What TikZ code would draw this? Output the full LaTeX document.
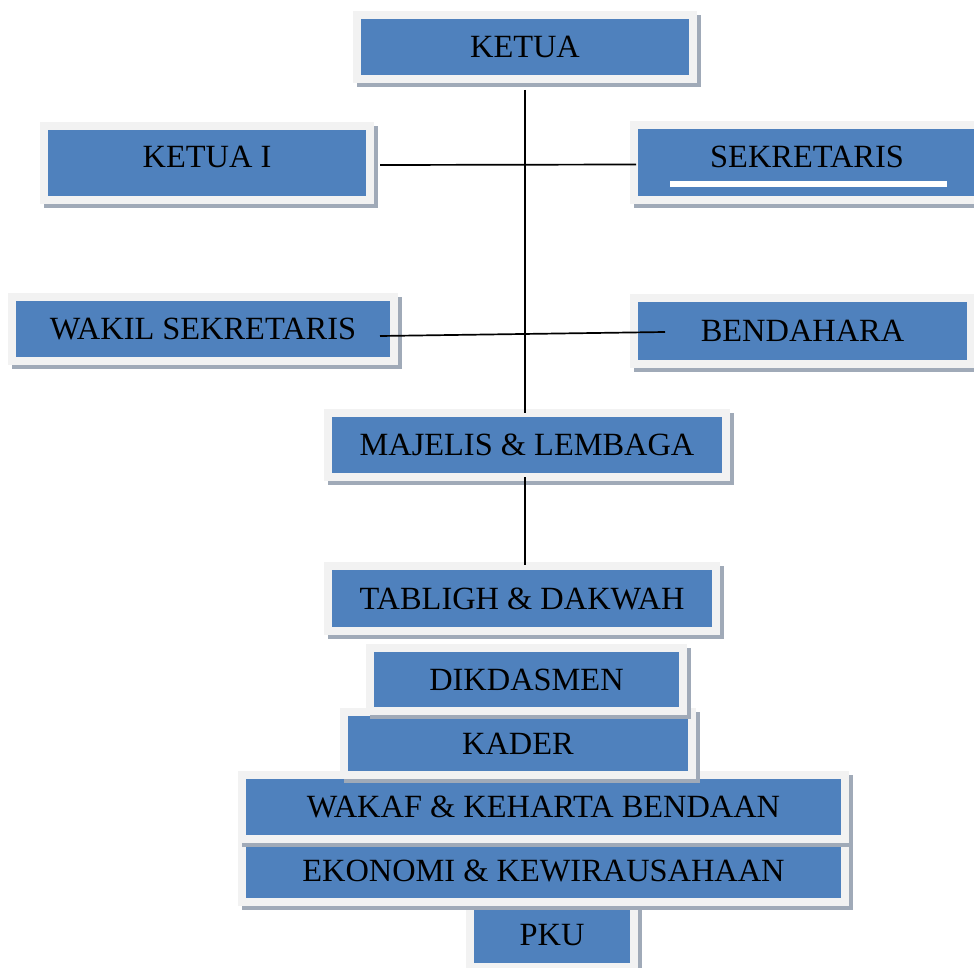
\documentclass[tikz,border=0pt]{standalone}
\usepackage{fontspec}
\setmainfont{Liberation Serif}
\definecolor{boxblue}{HTML}{4F81BD}
\definecolor{boxborder}{HTML}{F2F2F2}
\definecolor{boxshadow}{HTML}{A0AAB8}
\tikzset{
  bluebox/.style={fill=boxblue, inner sep=0pt, outer sep=0pt, text=black,
    font=\fontsize{32.4}{37}\selectfont},
  connector/.style={draw=black, line width=1.7pt}
}
% #1 name, #2 x1, #3 y1, #4 x2, #5 y2 (blue area, px, y down), #6 text
\newcommand\orgbox[6]{%
  \fill[boxshadow] (#2-4,#3-4) rectangle (#4+12,#5+12);
  \fill[boxborder] (#2-8,#3-8) rectangle (#4+8,#5+8);
  \node[bluebox, minimum width={(#4-#2)*1pt}, minimum height={(#5-#3)*1pt}]
    (#1) at ({(#2+#4)/2},{(#3+#5)/2}) {#6};
}
\begin{document}
\begin{tikzpicture}[x=1pt,y=-1pt]
\useasboundingbox (0,0) rectangle (974,968);
\clip (0,0) rectangle (974,968);
\fill[white] (0,0) rectangle (974,968);
% top level boxes
\orgbox{ketua}{361}{19}{689}{75}{KETUA}
\orgbox{ketuaI}{48}{130}{366}{196}{\raisebox{6pt}[\height][\depth]{KETUA I}}
\orgbox{sekretaris}{638}{129}{976}{196}{\raisebox{6pt}[\height][\depth]{SEKRETARIS}}
\fill[white] (670,181) rectangle (947,187);
\orgbox{wakil}{16}{301}{390}{357}{WAKIL SEKRETARIS}
\orgbox{bendahara}{638}{302}{967}{360}{BENDAHARA}
\orgbox{majelis}{332}{417}{722}{473}{MAJELIS \& LEMBAGA}
\orgbox{tabligh}{332}{570}{712}{627}{TABLIGH \& DAKWAH}
% stacked boxes, lower ones first
\orgbox{pku}{474}{908}{630}{963}{PKU}
\orgbox{ekonomi}{246}{844}{841}{898}{EKONOMI \& KEWIRAUSAHAAN}
\orgbox{wakaf}{246}{779}{841}{835}{WAKAF \& KEHARTA BENDAAN}
\orgbox{kader}{348}{716}{688}{771}{KADER}
\orgbox{dikdasmen}{374}{652}{679}{707}{DIKDASMEN}
% connectors
\draw[connector] ([yshift=-15pt]ketua.south) -- ([yshift=4pt]ketua.south |- majelis.north);
\draw[connector] ([yshift=-4pt]majelis.south -| ketua.south) -- ([yshift=5pt]ketua.south |- tabligh.north);
\draw[connector] ([xshift=14pt,yshift=-2pt]ketuaI.east) -- ([xshift=-2pt,yshift=-2pt]sekretaris.west);
\draw[connector] ([xshift=-10pt,yshift=-7pt]wakil.east) -- ([xshift=27pt,yshift=-1pt]bendahara.west);
\end{tikzpicture}
\end{document}
